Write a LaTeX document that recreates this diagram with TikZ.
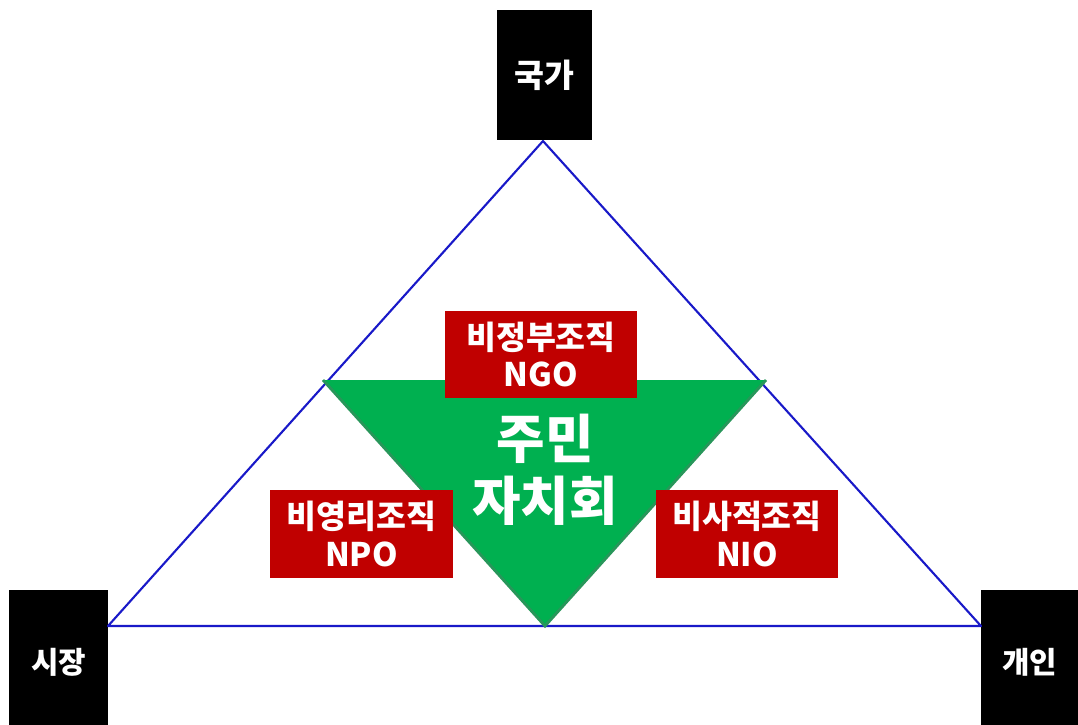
\documentclass[tikz,border=0pt]{standalone}
\usepackage{fontspec}
\setmainfont{Noto Sans CJK KR}
\definecolor{edgeblue}{RGB}{25, 25, 200}
\definecolor{civgreen}{RGB}{0, 176, 80}
\definecolor{civedge}{RGB}{40, 150, 90}
\definecolor{orgred}{RGB}{192, 0, 0}
\usepackage{tikz}
\usetikzlibrary{positioning}

\begin{document}
\begin{tikzpicture}[x=0.02cm, y=-0.02cm,
  sector/.style={fill=black, text=white, inner sep=0pt, font=\fontsize{17}{20}\selectfont\bfseries, minimum width=1.9cm, minimum height=2.65cm},
  orgbox/.style={fill=orgred, text=white, inner sep=0pt, align=center, font=\fontsize{18.5}{21.5}\selectfont\bfseries, minimum width=3.7cm, minimum height=1.75cm}]
  \useasboundingbox (0, 0) rectangle (1078, 724);

  % sectors
  \node[sector, minimum height=2.62cm, font=\fontsize{18.5}{22}\selectfont\bfseries] (gukga) at (544.5, 75) {국가};
  \node[sector, minimum width=1.98cm, minimum height=2.9cm] (sijang) at (58.5, 662) {시장};
  \node[sector, minimum width=1.96cm, minimum height=2.9cm] (gaein) at (1029.5, 662) {개인};

  % outer triangle
  \coordinate (apex) at (543, 141);
  \coordinate (left) at (108, 626);
  \coordinate (right) at (981, 626);
  \draw[edgeblue, line width=1.2pt, line join=round] (apex) -- (left) -- (right) -- cycle;

  % inner triangle
  \coordinate (gl) at (323, 380);
  \coordinate (gr) at (766, 380);
  \coordinate (gb) at (545, 626);
  \fill[civgreen] (gl) -- (gr) -- (gb) -- cycle;
  \draw[civedge, line width=1.6pt] (gr) -- (gb) -- (gl);
  \node[text=white, align=center, font=\fontsize{30}{35}\selectfont\bfseries] (jumin) at (545, 470) {주민\\자치회};

  % organisations
  \node[orgbox, minimum width=3.84cm] (ngo) at (541, 354.5) {비정부조직\\NGO};
  \node[orgbox, minimum width=3.66cm] (npo) at (361.5, 534) {비영리조직\\NPO};
  \node[orgbox, minimum width=3.64cm] (nio) at (747, 534) {비사적조직\\NIO};
\end{tikzpicture}
\end{document}
